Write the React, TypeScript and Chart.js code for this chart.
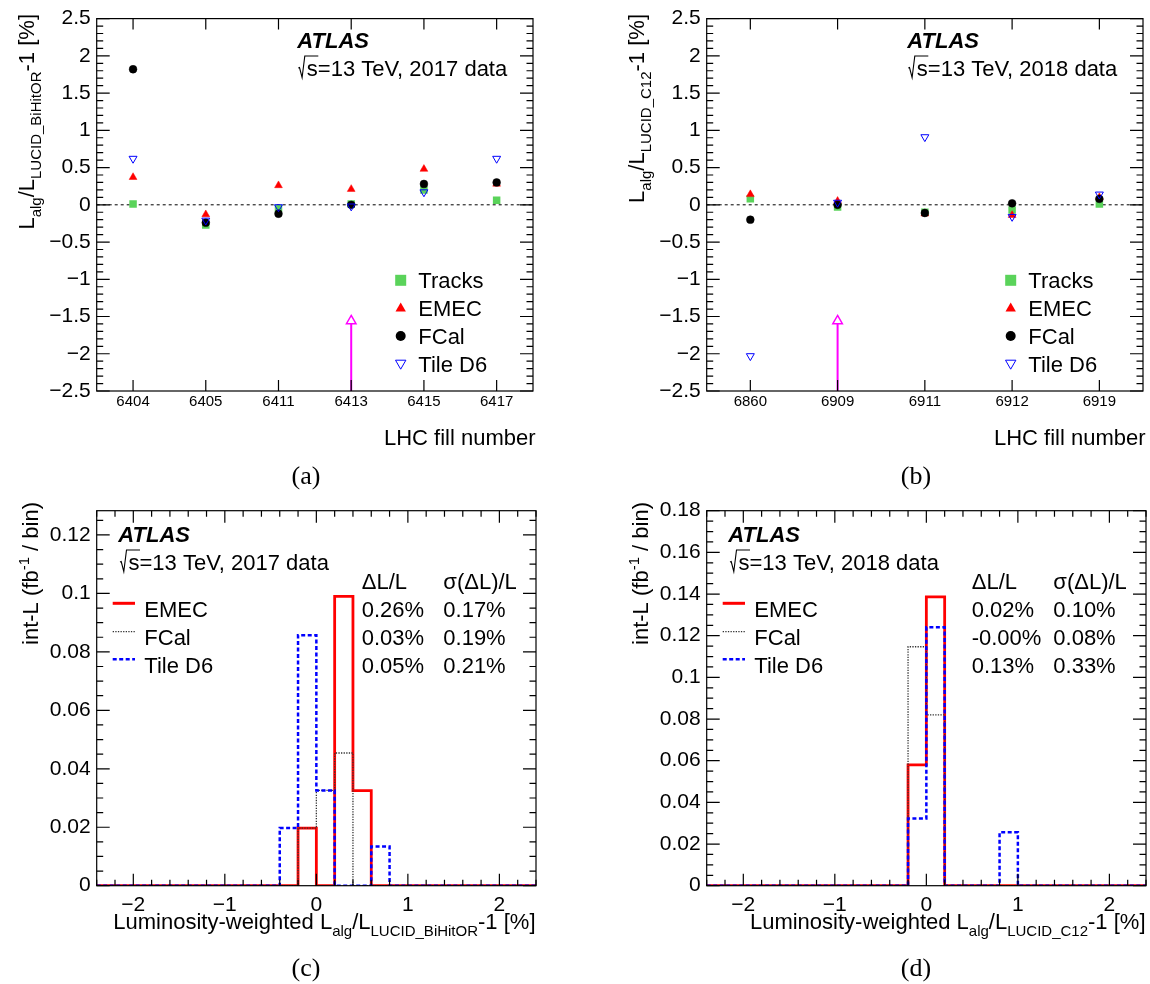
import React, { useEffect, useRef } from 'react';
import { Chart, registerables } from 'chart.js';
Chart.register(...registerables);

// ---------------- data ----------------
const FILLS_2017 = ['6404', '6405', '6411', '6413', '6415', '6417'];
const TRACKS_2017 = [0.01, -0.27, -0.05, 0.01, 0.2, 0.06];
const EMEC_2017 = [0.37, -0.13, 0.26, 0.21, 0.48, 0.28];
const FCAL_2017 = [1.82, -0.24, -0.12, 0.0, 0.28, 0.3];
const TILE_2017 = [0.62, -0.21, -0.03, -0.02, 0.17, 0.62];
const MARK_FILL_2017 = '6413';
const MARK_VALUE_2017 = -1.56;

const FILLS_2018 = ['6860', '6909', '6911', '6912', '6919'];
const TRACKS_2018 = [0.08, -0.03, -0.1, -0.07, 0.01];
const EMEC_2018 = [0.14, 0.05, -0.12, -0.14, 0.1];
const FCAL_2018 = [-0.2, 0.0, -0.11, 0.02, 0.08];
const TILE_2018 = [-2.03, 0.03, 0.91, -0.16, 0.14];
const MARK_FILL_2018 = '6909';
const MARK_VALUE_2018 = -1.56;

const BIN_EDGES = [
  -2.4, -2.2, -2.0, -1.8, -1.6, -1.4, -1.2, -1.0, -0.8, -0.6, -0.4, -0.2, 0.0,
  0.2, 0.4, 0.6, 0.8, 1.0, 1.2, 1.4, 1.6, 1.8, 2.0, 2.2, 2.4,
];
const H_EMEC_2017 = [0, 0, 0, 0, 0, 0, 0, 0, 0, 0, 0, 0.0197, 0, 0.099, 0.0325, 0, 0, 0, 0, 0, 0, 0, 0, 0];
const H_FCAL_2017 = [0, 0, 0, 0, 0, 0, 0, 0, 0, 0, 0, 0.0197, 0.0326, 0.0454, 0, 0, 0, 0, 0, 0, 0, 0, 0, 0];
const H_TILE_2017 = [0, 0, 0, 0, 0, 0, 0, 0, 0, 0, 0.0197, 0.0857, 0.0326, 0, 0, 0.0134, 0, 0, 0, 0, 0, 0, 0, 0];
const H_EMEC_2018 = [0, 0, 0, 0, 0, 0, 0, 0, 0, 0, 0, 0.058, 0.1386, 0, 0, 0, 0, 0, 0, 0, 0, 0, 0, 0];
const H_FCAL_2018 = [0, 0, 0, 0, 0, 0, 0, 0, 0, 0, 0, 0.1147, 0.082, 0, 0, 0, 0, 0, 0, 0, 0, 0, 0, 0];
const H_TILE_2018 = [0, 0, 0, 0, 0, 0, 0, 0, 0, 0, 0, 0.0323, 0.124, 0, 0, 0, 0.0256, 0, 0, 0, 0, 0, 0, 0];

const HIST_NAMES = ['EMEC', 'FCal', 'Tile D6'];
const DL_2017 = ['0.26%', '0.03%', '0.05%'];
const SIG_2017 = ['0.17%', '0.19%', '0.21%'];
const DL_2018 = ['0.02%', '-0.00%', '0.13%'];
const SIG_2018 = ['0.10%', '0.08%', '0.33%'];

// ---------------- styling ----------------
const FONT = '"Liberation Sans", Arial, Helvetica, sans-serif';
const SERIF = '"Liberation Serif", "Times New Roman", serif';
const GREEN = '#5ad35a';
const RED = '#ff0000';
const BLUE = '#0000ff';
const MAGENTA = '#ff00ff';
const LEFT = 96.7;

type Seg = [string, number]; // 0 normal, 1 sub, 2 sup

const fmtTick = (v: number) => {
  const r = Math.round(v * 1e6) / 1e6;
  const s = String(Math.abs(r));
  return r < 0 ? '\u2212' + s : s;
};

function segFont(k: number, size: number) {
  return `${k ? Math.round(size * 0.7) : size}px ${FONT}`;
}
function richWidth(ctx: CanvasRenderingContext2D, segs: Seg[], size: number) {
  let w = 0;
  for (const [t, k] of segs) {
    ctx.font = segFont(k, size);
    w += ctx.measureText(t).width;
  }
  return w;
}
function drawRich(ctx: CanvasRenderingContext2D, segs: Seg[], x: number, y: number, size: number) {
  let cx = x;
  for (const [t, k] of segs) {
    ctx.font = segFont(k, size);
    const dy = k === 1 ? size * 0.3 : k === 2 ? -size * 0.42 : 0;
    ctx.fillText(t, cx, y + dy);
    cx += ctx.measureText(t).width;
  }
}
function drawRichRight(ctx: CanvasRenderingContext2D, segs: Seg[], xEnd: number, y: number, size: number) {
  const w = richWidth(ctx, segs, size);
  drawRich(ctx, segs, xEnd - w, y, size);
}
function drawRichVertical(ctx: CanvasRenderingContext2D, segs: Seg[], xBase: number, yEnd: number, size: number) {
  ctx.save();
  ctx.translate(xBase, yEnd);
  ctx.rotate(-Math.PI / 2);
  const w = richWidth(ctx, segs, size);
  drawRich(ctx, segs, -w, 0, size);
  ctx.restore();
}
function drawSqrtS(ctx: CanvasRenderingContext2D, x: number, y: number, rest: string, size = 22) {
  ctx.save();
  ctx.strokeStyle = '#000';
  ctx.lineWidth = 1.1;
  ctx.font = `${size}px ${FONT}`;
  const sW = ctx.measureText('s').width;
  const top = y - 20;
  ctx.beginPath();
  ctx.moveTo(x, y - 8);
  ctx.lineTo(x + 1.2, y - 8.5);
  ctx.lineTo(x + 3.8, y + 1.5);
  ctx.lineTo(x + 6.5, top);
  ctx.lineTo(x + 9 + sW, top);
  ctx.stroke();
  ctx.fillText('s', x + 8.5, y);
  ctx.fillText(rest, x + 8.5 + sW, y);
  ctx.restore();
}
function triPath(ctx: CanvasRenderingContext2D, x: number, y: number, r: number, down: boolean) {
  const s = down ? -1 : 1;
  ctx.beginPath();
  ctx.moveTo(x, y - s * r);
  ctx.lineTo(x + r * 0.866, y + s * r * 0.5);
  ctx.lineTo(x - r * 0.866, y + s * r * 0.5);
  ctx.closePath();
}

function frameAndTicks(
  chart: any,
  xTicks: { v: number; major: boolean }[],
  yTicks: { v: number; major: boolean }[],
  xMajLen: number,
  xMinLen: number,
) {
  const { ctx, chartArea: a, scales } = chart;
  ctx.save();
  ctx.strokeStyle = '#000';
  ctx.lineWidth = 1.2;
  ctx.setLineDash([]);
  ctx.strokeRect(a.left, a.top, a.right - a.left, a.bottom - a.top);
  ctx.beginPath();
  for (const t of yTicks) {
    const py = scales.y.getPixelForValue(t.v);
    const len = t.major ? 13 : 6.5;
    ctx.moveTo(a.left, py);
    ctx.lineTo(a.left + len, py);
    ctx.moveTo(a.right, py);
    ctx.lineTo(a.right - len, py);
  }
  for (const t of xTicks) {
    const px = scales.x.getPixelForValue(t.v);
    const len = t.major ? xMajLen : xMinLen;
    ctx.moveTo(px, a.bottom);
    ctx.lineTo(px, a.bottom - len);
    ctx.moveTo(px, a.top);
    ctx.lineTo(px, a.top + len);
  }
  ctx.stroke();
  ctx.restore();
}

// ---------------- scatter panels ----------------
type ScatterP = {
  fills: string[];
  tracks: number[];
  emec: number[];
  fcal: number[];
  tile: number[];
  markFill: string;
  markValue: number;
  ySub: string;
  year: string;
  caption: string;
};

function scatterChart(canvas: HTMLCanvasElement, p: ScatterP) {
  const YMIN = -2.5;
  const YMAX = 2.5;
  const deco = {
    id: 'deco',
    beforeDatasetsDraw(chart: any) {
      const { ctx, chartArea: a, scales } = chart;
      const py = scales.y.getPixelForValue(0);
      ctx.save();
      ctx.strokeStyle = '#000';
      ctx.lineWidth = 1;
      ctx.setLineDash([3, 3]);
      ctx.beginPath();
      ctx.moveTo(a.left, py);
      ctx.lineTo(a.right, py);
      ctx.stroke();
      ctx.restore();
    },
    afterDraw(chart: any) {
      const yT: { v: number; major: boolean }[] = [];
      const n = Math.round((YMAX - YMIN) / 0.1);
      for (let i = 0; i <= n; i++) yT.push({ v: YMIN + i * 0.1, major: i % 5 === 0 });
      const xT = p.fills.map((_, i) => ({ v: i, major: true }));
      frameAndTicks(chart, xT, yT, 11, 11);

      const ctx: CanvasRenderingContext2D = chart.ctx;
      ctx.save();
      ctx.fillStyle = '#000';
      ctx.textAlign = 'left';
      ctx.textBaseline = 'alphabetic';
      ctx.font = `italic bold 22px ${FONT}`;
      ctx.fillText('ATLAS', 297.3, 48);
      drawSqrtS(ctx, 298.3, 76, `=13 TeV, ${p.year} data`);

      // legend
      const lx = 400.7;
      const rows = [288.3, 316, 344, 371.7];
      const c = rows.map((b) => b - 8);
      ctx.fillStyle = GREEN;
      ctx.fillRect(lx - 5.5, c[0] - 5.5, 11, 11);
      ctx.fillStyle = RED;
      triPath(ctx, lx, c[1] + 0.5, 6, false);
      ctx.fill();
      ctx.fillStyle = '#000';
      ctx.beginPath();
      ctx.arc(lx, c[2], 5, 0, Math.PI * 2);
      ctx.fill();
      ctx.strokeStyle = BLUE;
      ctx.lineWidth = 1;
      triPath(ctx, lx, c[3] - 0.5, 6, true);
      ctx.stroke();
      ctx.fillStyle = '#000';
      ctx.font = `22px ${FONT}`;
      ['Tracks', 'EMEC', 'FCal', 'Tile D6'].forEach((t, i) => ctx.fillText(t, 418.3, rows[i]));

      // axis titles
      drawRichVertical(
        ctx,
        [
          ['L', 0],
          ['alg', 1],
          ['/L', 0],
          [p.ySub, 1],
          ['-1 [%]', 0],
        ],
        34,
        14,
        22,
      );
      ctx.font = `22px ${FONT}`;
      ctx.textAlign = 'right';
      ctx.fillText('LHC fill number', 535.5, 445);
      ctx.textAlign = 'center';
      ctx.font = `26px ${SERIF}`;
      ctx.fillText(p.caption, 306, 484);
      ctx.restore();
    },
  };

  return new Chart(canvas, {
    type: 'line',
    data: {
      labels: p.fills,
      datasets: [
        {
          label: 'Tracks',
          data: p.tracks,
          showLine: false,
          pointStyle: 'rect',
          pointRadius: 5.3,
          pointBackgroundColor: GREEN,
          pointBorderColor: GREEN,
          pointBorderWidth: 0,
          order: 4,
        },
        {
          label: 'EMEC',
          data: p.emec,
          showLine: false,
          pointStyle: 'triangle',
          pointRadius: 4.5,
          pointBackgroundColor: RED,
          pointBorderColor: RED,
          pointBorderWidth: 0.5,
          order: 3,
        },
        {
          label: 'FCal',
          data: p.fcal,
          showLine: false,
          pointStyle: 'circle',
          pointRadius: 3.9,
          pointBackgroundColor: '#000',
          pointBorderColor: '#000',
          pointBorderWidth: 0.5,
          order: 2,
        },
        {
          label: 'Tile D6',
          data: p.tile,
          showLine: false,
          pointStyle: 'triangle',
          pointRotation: 180,
          pointRadius: 4.6,
          pointBackgroundColor: 'rgba(0,0,0,0)',
          pointBorderColor: BLUE,
          pointBorderWidth: 1,
          order: 1,
        },
        {
          label: 'off-scale',
          data: [
            { x: p.markFill, y: p.markValue },
            { x: p.markFill, y: YMIN },
          ] as any,
          showLine: true,
          borderColor: MAGENTA,
          borderWidth: 2,
          pointStyle: 'triangle',
          pointRadius: [5.5, 0],
          pointBackgroundColor: '#ffffff',
          pointBorderColor: MAGENTA,
          pointBorderWidth: 1.5,
          order: 0,
        },
      ] as any,
    },
    options: {
      responsive: false,
      animation: false,
      devicePixelRatio: 1,
      events: [],
      layout: { padding: { left: 0, right: 4, top: 16, bottom: 0 } },
      plugins: { legend: { display: false }, tooltip: { enabled: false } },
      scales: {
        x: {
          type: 'category',
          offset: true,
          grid: { display: false, drawTicks: false },
          border: { display: false },
          ticks: {
            color: '#000',
            font: { family: FONT, size: 15 },
            padding: 2,
            maxRotation: 0,
            autoSkip: false,
          },
          afterFit: (s: any) => {
            s.height = 101;
          },
        },
        y: {
          type: 'linear',
          min: YMIN,
          max: YMAX,
          grid: { display: false, drawTicks: false },
          border: { display: false },
          ticks: {
            stepSize: 0.5,
            includeBounds: false,
            autoSkip: false,
            padding: 6,
            color: '#000',
            font: { family: FONT, size: 21 },
            callback: (v: any) => fmtTick(Number(v)),
          },
          afterFit: (s: any) => {
            s.width = LEFT;
          },
        },
      },
    } as any,
    plugins: [deco],
  });
}

// ---------------- histogram panels ----------------
type HistP = {
  emec: number[];
  fcal: number[];
  tile: number[];
  yMax: number;
  dl: string[];
  sig: string[];
  xSub: string;
  year: string;
  caption: string;
};

function histChart(canvas: HTMLCanvasElement, p: HistP) {
  const pts = (vals: number[]) =>
    BIN_EDGES.map((e, i) => ({ x: e, y: vals[Math.min(i, vals.length - 1)] }));
  const deco = {
    id: 'deco',
    afterDraw(chart: any) {
      const yT: { v: number; major: boolean }[] = [];
      const ny = Math.floor(p.yMax / 0.005 + 1e-6);
      for (let i = 0; i <= ny; i++) yT.push({ v: i * 0.005, major: i % 4 === 0 });
      const xT: { v: number; major: boolean }[] = [];
      for (let i = 0; i <= 24; i++) {
        const v = -2.4 + i * 0.2;
        xT.push({ v, major: Math.abs(v - Math.round(v)) < 1e-6 });
      }
      frameAndTicks(chart, xT, yT, 12, 6);

      const ctx: CanvasRenderingContext2D = chart.ctx;
      ctx.save();
      ctx.fillStyle = '#000';
      ctx.textAlign = 'left';
      ctx.textBaseline = 'alphabetic';
      ctx.font = `italic bold 22px ${FONT}`;
      ctx.fillText('ATLAS', 118.3, 49.7);
      drawSqrtS(ctx, 120, 78, `=13 TeV, ${p.year} data`);
      ctx.font = `22px ${FONT}`;
      ctx.fillText('\u0394L/L', 361.7, 97);
      ctx.fillText('\u03c3(\u0394L)/L', 443.3, 97);
      const rows = [124.7, 153, 180.7];
      HIST_NAMES.forEach((nm, i) => {
        ctx.fillText(nm, 144.3, rows[i]);
        ctx.fillText(p.dl[i], 361.7, rows[i]);
        ctx.fillText(p.sig[i], 443.3, rows[i]);
      });
      // legend lines
      const styles = [
        { c: RED, w: 3, d: [] as number[] },
        { c: '#333333', w: 1.3, d: [1.3, 1.3] },
        { c: BLUE, w: 2.5, d: [4, 2.5] },
      ];
      styles.forEach((s, i) => {
        const ly = rows[i] - 13.4;
        ctx.strokeStyle = s.c;
        ctx.lineWidth = s.w;
        ctx.setLineDash(s.d);
        ctx.beginPath();
        ctx.moveTo(112.7, ly);
        ctx.lineTo(135, ly);
        ctx.stroke();
      });
      ctx.setLineDash([]);

      drawRichVertical(
        ctx,
        [
          ['int-L (fb', 0],
          ['-1', 2],
          [' / bin)', 0],
        ],
        38,
        10,
        22,
      );
      ctx.fillStyle = '#000';
      drawRichRight(
        ctx,
        [
          ['Luminosity-weighted L', 0],
          ['alg', 1],
          ['/L', 0],
          [p.xSub, 1],
          ['-1 [%]', 0],
        ],
        535.5,
        437,
        22,
      );
      ctx.textAlign = 'center';
      ctx.font = `26px ${SERIF}`;
      ctx.fillText(p.caption, 306, 484);
      ctx.restore();
    },
  };

  const line = (label: string, vals: number[], color: string, width: number, dash: number[], order: number) => ({
    label,
    data: pts(vals),
    stepped: 'before',
    borderColor: color,
    borderWidth: width,
    borderDash: dash,
    borderJoinStyle: 'miter',
    pointRadius: 0,
    fill: false,
    tension: 0,
    order,
  });

  return new Chart(canvas, {
    type: 'line',
    data: {
      datasets: [
        line('EMEC', p.emec, RED, 2.8, [], 2),
        line('FCal', p.fcal, '#333333', 1.3, [1.3, 1.3], 1),
        line('Tile D6', p.tile, BLUE, 2.5, [4, 2.5], 0),
      ] as any,
    },
    options: {
      responsive: false,
      animation: false,
      devicePixelRatio: 1,
      events: [],
      layout: { padding: { left: 0, right: 4, top: 18.7, bottom: 0 } },
      plugins: { legend: { display: false }, tooltip: { enabled: false } },
      scales: {
        x: {
          type: 'linear',
          min: -2.4,
          max: 2.4,
          grid: { display: false, drawTicks: false },
          border: { display: false },
          ticks: {
            stepSize: 1,
            includeBounds: false,
            autoSkip: false,
            maxRotation: 0,
            padding: 7,
            color: '#000',
            font: { family: FONT, size: 21 },
            callback: (v: any) => fmtTick(Number(v)),
          },
          afterFit: (s: any) => {
            s.height = 98.3;
          },
        },
        y: {
          type: 'linear',
          min: 0,
          max: p.yMax,
          grid: { display: false, drawTicks: false },
          border: { display: false },
          ticks: {
            stepSize: 0.02,
            includeBounds: false,
            autoSkip: false,
            padding: 6,
            color: '#000',
            font: { family: FONT, size: 21 },
            callback: (v: any) => fmtTick(Number(v)),
          },
          afterFit: (s: any) => {
            s.width = LEFT;
          },
        },
      },
    } as any,
    plugins: [deco],
  });
}

export default function App() {
  const r0 = useRef<HTMLCanvasElement>(null);
  const r1 = useRef<HTMLCanvasElement>(null);
  const r2 = useRef<HTMLCanvasElement>(null);
  const r3 = useRef<HTMLCanvasElement>(null);

  useEffect(() => {
    const charts = [
      scatterChart(r0.current!, {
        fills: FILLS_2017,
        tracks: TRACKS_2017,
        emec: EMEC_2017,
        fcal: FCAL_2017,
        tile: TILE_2017,
        markFill: MARK_FILL_2017,
        markValue: MARK_VALUE_2017,
        ySub: 'LUCID_BiHitOR',
        year: '2017',
        caption: '(a)',
      }),
      scatterChart(r1.current!, {
        fills: FILLS_2018,
        tracks: TRACKS_2018,
        emec: EMEC_2018,
        fcal: FCAL_2018,
        tile: TILE_2018,
        markFill: MARK_FILL_2018,
        markValue: MARK_VALUE_2018,
        ySub: 'LUCID_C12',
        year: '2018',
        caption: '(b)',
      }),
      histChart(r2.current!, {
        emec: H_EMEC_2017,
        fcal: H_FCAL_2017,
        tile: H_TILE_2017,
        yMax: 0.1283,
        dl: DL_2017,
        sig: SIG_2017,
        xSub: 'LUCID_BiHitOR',
        year: '2017',
        caption: '(c)',
      }),
      histChart(r3.current!, {
        emec: H_EMEC_2018,
        fcal: H_FCAL_2018,
        tile: H_TILE_2018,
        yMax: 0.18,
        dl: DL_2018,
        sig: SIG_2018,
        xSub: 'LUCID_C12',
        year: '2018',
        caption: '(d)',
      }),
    ];
    return () => charts.forEach((c) => c.destroy());
  }, []);

  const cs = (left: number, top: number): React.CSSProperties => ({ position: 'absolute', left, top });
  return (
    <div style={{ position: 'absolute', left: 0, top: 0, width: 1150, height: 984, background: '#fff', overflow: 'hidden' }}>
      <canvas ref={r0} width={540} height={492} style={cs(0, 0)} />
      <canvas ref={r1} width={540} height={492} style={cs(610, 0)} />
      <canvas ref={r2} width={540} height={492} style={cs(0, 492)} />
      <canvas ref={r3} width={540} height={492} style={cs(610, 492)} />
    </div>
  );
}
